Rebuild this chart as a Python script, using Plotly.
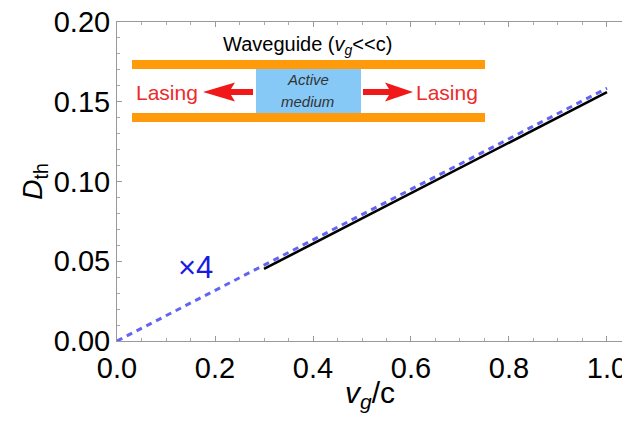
import plotly.graph_objects as go

# Data
dashed_x = [0.0, 1.0]
dashed_y = [0.0, 0.1585]
solid_x = [0.3, 0.5, 0.7, 0.9, 1.0]
solid_y = [0.0452, 0.0768, 0.1085, 0.1402, 0.1560]
x_ticks = [0.0, 0.2, 0.4, 0.6, 0.8, 1.0]
y_ticks = [0.00, 0.05, 0.10, 0.15, 0.20]

W, H = 630, 426
OFF = 8  # page body offset
L, R, T, B = 109, 7, 14, 93
PW, PH = W - L - R, H - T - B

def px(sx):
    return (sx - OFF - L) / PW

def py(sy):
    return (H - B + OFF - sy) / PH

fig = go.Figure()
fig.add_trace(go.Scatter(x=solid_x, y=solid_y, mode="lines",
                         line=dict(color="black", width=2.6), showlegend=False))
fig.add_trace(go.Scatter(x=dashed_x, y=dashed_y, mode="lines",
                         line=dict(color="#6464f4", width=3, dash="6px,5px"), showlegend=False))

shapes = []
# waveguide bars
shapes.append(dict(type="rect", xref="paper", yref="paper", x0=px(132), x1=px(485), y0=py(69), y1=py(60),
                   fillcolor="#ff9a0a", line=dict(width=0), layer="above"))
shapes.append(dict(type="rect", xref="paper", yref="paper", x0=px(132), x1=px(485), y0=py(122), y1=py(113),
                   fillcolor="#ff9a0a", line=dict(width=0), layer="above"))
# active medium
shapes.append(dict(type="rect", xref="paper", yref="paper", x0=px(256), x1=px(361), y0=py(113), y1=py(69),
                   fillcolor="#86c8f6", line=dict(width=0), layer="above"))

def arrow(tail, tip, yc, hl):
    d = 1 if tip > tail else -1
    sh = 3
    hw = 9.5
    base = tip - d * hl
    back = base + d * 4
    pts = [(tail, yc - sh), (back, yc - sh), (base, yc - hw), (tip, yc),
           (base, yc + hw), (back, yc + sh), (tail, yc + sh)]
    path = "M " + " L ".join(f"{px(a):.5f},{py(b):.5f}" for a, b in pts) + " Z"
    return dict(type="path", xref="paper", yref="paper", path=path,
                fillcolor="#f01818", line=dict(width=0), layer="above")

shapes.append(arrow(253, 203, 92, 32))
shapes.append(arrow(363, 413, 92, 28))

def ann(sx, sy, text, size, color, **kw):
    return dict(xref="paper", yref="paper", x=px(sx), y=py(sy), text=text, showarrow=False,
                xanchor="center", yanchor="middle",
                font=dict(size=size, color=color, family="Liberation Sans"), **kw)

annotations = [
    ann(307, 46, "Waveguide (<i>v</i><sub><i>g</i></sub>&lt;&lt;c)", 20, "black"),
    ann(167, 92, "Lasing", 21, "#ee2a2a"),
    ann(447, 92, "Lasing", 21, "#ee2a2a"),
    ann(308, 80, "<i>Active</i>", 15, "#333333"),
    ann(307, 102, "<i>medium</i>", 15, "#333333"),
    ann(370, 394, "<i>v</i><sub><i>g</i></sub>/c", 30, "black"),
    dict(xref="x", yref="y", x=0.161, y=0.046, text="×4", showarrow=False,
         xanchor="center", yanchor="middle",
         font=dict(size=31, color="#1a1ae0", family="Liberation Sans")),
]

fig.update_layout(
    width=W, height=H,
    margin=dict(l=L, r=R, t=T, b=B),
    plot_bgcolor="white", paper_bgcolor="white",
    font=dict(family="Liberation Sans", color="black"),
    shapes=shapes, annotations=annotations,
    showlegend=False,
)
fig.update_xaxes(range=[0, 1.049], tickvals=x_ticks, ticktext=[f"{v:.1f}" for v in x_ticks],
                 showgrid=False, zeroline=False, showline=True, linecolor="#999999", linewidth=1,
                 mirror="ticks", ticks="inside", ticklen=5, tickcolor="#999999",
                 minor=dict(ticks="inside", dtick=0.05, tick0=0, ticklen=3, tickcolor="#aaaaaa"),
                 tickfont=dict(size=29, color="black"), ticklabeloverflow="allow",
                 ticklabelstandoff=1, automargin=False)
fig.update_yaxes(range=[0, 0.2], tickvals=y_ticks, ticktext=[f"{v:.2f}" for v in y_ticks],
                 showgrid=False, zeroline=False, showline=True, linecolor="#999999", linewidth=1,
                 mirror=False, ticks="inside", ticklen=5, tickcolor="#999999",
                 minor=dict(ticks="inside", dtick=0.01, tick0=0, ticklen=3, tickcolor="#aaaaaa"),
                 tickfont=dict(size=29, color="black"), ticklabeloverflow="allow", automargin=False,
                 title=dict(text="<i>D</i><sub>th</sub>", font=dict(size=28), standoff=2))

fig.write_html("out.html")
